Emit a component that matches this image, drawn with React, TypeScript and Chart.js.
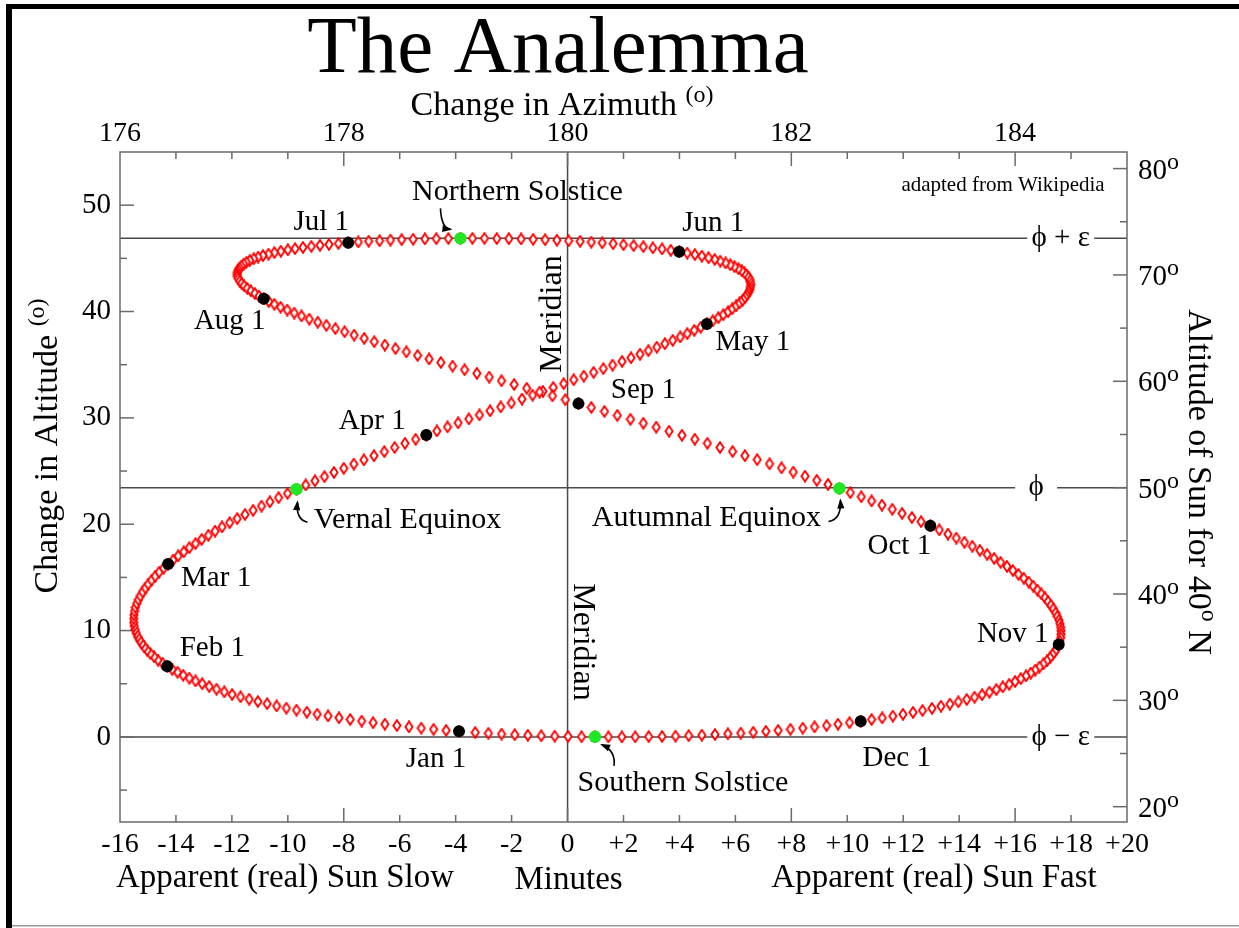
import React, { useEffect, useRef } from 'react';
import { Chart, registerables } from 'chart.js';

Chart.register(...registerables);

const SERIF = '"Liberation Serif", "Times New Roman", Times, serif';

// ---------------- DATA ----------------
// Daily position of the Sun at mean noon (day 1 = Jan 1 ... day 365 = Dec 31)
// x: apparent minus mean solar time, as drawn on the minutes axis
const eqTimeMinutes: number[] = [
  // Jan
  -3.88, -4.34, -4.79, -5.23, -5.67, -6.10, -6.53, -6.95, -7.36, -7.77, -8.17, -8.56, -8.95, -9.32, -9.69, -10.05,
  -10.40, -10.74, -11.07, -11.38, -11.69, -11.99, -12.27, -12.55, -12.81, -13.06, -13.30, -13.52, -13.74, -13.94, -14.13,
  // Feb
  -14.31, -14.48, -14.64, -14.78, -14.91, -15.03, -15.13, -15.22, -15.30, -15.37, -15.42, -15.46, -15.49, -15.51,
  -15.51, -15.50, -15.48, -15.45, -15.40, -15.34, -15.27, -15.19, -15.09, -14.99, -14.87, -14.74, -14.60, -14.44,
  // Mar
  -14.28, -14.10, -13.92, -13.72, -13.52, -13.30, -13.08, -12.84, -12.60, -12.35, -12.08, -11.81, -11.53, -11.24, -10.94,
  -10.64, -10.33, -10.01, -9.69, -9.36, -9.03, -8.69, -8.35, -8.00, -7.64, -7.28, -6.92, -6.55, -6.18, -5.81, -5.43,
  // Apr
  -5.05, -4.67, -4.29, -3.91, -3.53, -3.15, -2.77, -2.39, -2.01, -1.63, -1.25, -0.88, -0.51, -0.14, 0.22,
  0.58, 0.93, 1.28, 1.61, 1.95, 2.27, 2.59, 2.89, 3.19, 3.48, 3.76, 4.03, 4.28, 4.53, 4.76,
  // May
  4.98, 5.19, 5.39, 5.57, 5.74, 5.89, 6.03, 6.15, 6.26, 6.35, 6.42, 6.48, 6.52, 6.54, 6.55, 6.54,
  6.51, 6.47, 6.41, 6.33, 6.23, 6.11, 5.97, 5.82, 5.65, 5.46, 5.26, 5.04, 4.80, 4.55, 4.28,
  // Jun
  3.99, 3.69, 3.38, 3.05, 2.71, 2.36, 2.00, 1.63, 1.24, 0.85, 0.45, 0.04, -0.38, -0.80, -1.23,
  -1.66, -2.10, -2.53, -2.97, -3.40, -3.83, -4.26, -4.69, -5.10, -5.52, -5.93, -6.33, -6.72, -7.11, -7.48,
  // Jul
  -7.84, -8.19, -8.53, -8.85, -9.16, -9.46, -9.74, -10.00, -10.25, -10.48, -10.69, -10.89, -11.06, -11.22, -11.36, -11.48,
  -11.58, -11.66, -11.73, -11.77, -11.80, -11.81, -11.80, -11.77, -11.72, -11.65, -11.56, -11.45, -11.32, -11.18, -11.03,
  // Aug
  -10.86, -10.68, -10.48, -10.26, -10.02, -9.77, -9.51, -9.23, -8.93, -8.62, -8.30, -7.97, -7.63, -7.27, -6.91, -6.53,
  -6.15, -5.76, -5.36, -4.95, -4.53, -4.11, -3.68, -3.24, -2.80, -2.36, -1.91, -1.46, -1.00, -0.54, -0.08,
  // Sep
  0.39, 0.85, 1.32, 1.78, 2.25, 2.71, 3.17, 3.63, 4.09, 4.55, 5.00, 5.45, 5.90, 6.34, 6.78,
  7.22, 7.65, 8.07, 8.49, 8.91, 9.31, 9.72, 10.11, 10.50, 10.87, 11.24, 11.61, 11.96, 12.31, 12.64,
  // Oct
  12.97, 13.29, 13.60, 13.90, 14.19, 14.47, 14.74, 15.00, 15.25, 15.48, 15.71, 15.92, 16.12, 16.31, 16.49, 16.65,
  16.80, 16.94, 17.07, 17.18, 17.28, 17.37, 17.45, 17.51, 17.57, 17.60, 17.63, 17.64, 17.64, 17.63, 17.60,
  // Nov
  17.56, 17.50, 17.43, 17.34, 17.25, 17.14, 17.01, 16.87, 16.72, 16.56, 16.39, 16.20, 16.00, 15.79, 15.56,
  15.33, 15.08, 14.82, 14.55, 14.27, 13.97, 13.67, 13.35, 13.03, 12.69, 12.35, 11.99, 11.63, 11.25, 10.87,
  // Dec
  10.48, 10.08, 9.67, 9.26, 8.83, 8.41, 7.97, 7.53, 7.09, 6.64, 6.19, 5.73, 5.27, 4.80, 4.33, 3.86,
  3.38, 2.90, 2.42, 1.94, 1.46, 0.98, 0.50, 0.02, -0.46, -0.94, -1.42, -1.89, -2.36, -2.83, -3.30,
];

// y: change in altitude (degrees above the winter-solstice noon altitude)
const altitudeChange: number[] = [
  // Jan
  0.53, 0.62, 0.72, 0.83, 0.95, 1.07, 1.20, 1.34, 1.49, 1.64, 1.80, 1.97, 2.14, 2.33, 2.52, 2.71,
  2.91, 3.12, 3.33, 3.55, 3.77, 4.00, 4.24, 4.49, 4.74, 5.00, 5.26, 5.53, 5.80, 6.08, 6.36,
  // Feb
  6.65, 6.94, 7.23, 7.54, 7.84, 8.15, 8.46, 8.78, 9.10, 9.43, 9.76, 10.10, 10.43, 10.77,
  11.12, 11.47, 11.82, 12.18, 12.54, 12.90, 13.26, 13.63, 14.00, 14.37, 14.74, 15.11, 15.49, 15.87,
  // Mar
  16.25, 16.63, 17.02, 17.40, 17.79, 18.18, 18.57, 18.96, 19.35, 19.75, 20.14, 20.53, 20.92, 21.31, 21.71, 22.11,
  22.50, 22.90, 23.29, 23.69, 24.08, 24.48, 24.87, 25.26, 25.66, 26.05, 26.44, 26.83, 27.22, 27.61, 27.99,
  // Apr
  28.38, 28.77, 29.15, 29.53, 29.90, 30.28, 30.66, 31.03, 31.40, 31.77, 32.14, 32.50, 32.86, 33.22, 33.58,
  33.93, 34.28, 34.63, 34.97, 35.31, 35.65, 35.99, 36.32, 36.65, 36.97, 37.29, 37.61, 37.92, 38.23, 38.53,
  // May
  38.83, 39.12, 39.42, 39.70, 39.98, 40.26, 40.54, 40.81, 41.07, 41.33, 41.59, 41.84, 42.08, 42.32, 42.55, 42.78,
  43.00, 43.22, 43.43, 43.64, 43.84, 44.03, 44.22, 44.40, 44.57, 44.74, 44.90, 45.06, 45.21, 45.36, 45.50,
  // Jun
  45.63, 45.76, 45.88, 45.99, 46.10, 46.20, 46.29, 46.38, 46.46, 46.53, 46.60, 46.65, 46.71, 46.75, 46.79,
  46.82, 46.85, 46.86, 46.88, 46.88, 46.88, 46.87, 46.85, 46.83, 46.80, 46.76, 46.72, 46.66, 46.61, 46.54,
  // Jul
  46.47, 46.40, 46.31, 46.23, 46.13, 46.03, 45.91, 45.80, 45.67, 45.54, 45.40, 45.26, 45.12, 44.96, 44.80, 44.63,
  44.46, 44.28, 44.09, 43.90, 43.71, 43.50, 43.30, 43.09, 42.87, 42.65, 42.42, 42.18, 41.94, 41.70, 41.45,
  // Aug
  41.20, 40.94, 40.68, 40.41, 40.14, 39.86, 39.58, 39.29, 39.00, 38.70, 38.40, 38.10, 37.79, 37.48, 37.16, 36.85,
  36.52, 36.20, 35.87, 35.54, 35.21, 34.87, 34.53, 34.19, 33.84, 33.49, 33.14, 32.79, 32.43, 32.07, 31.71,
  // Sep
  31.34, 30.98, 30.61, 30.24, 29.87, 29.50, 29.13, 28.75, 28.37, 27.99, 27.61, 27.22, 26.84, 26.45, 26.07,
  25.68, 25.30, 24.91, 24.52, 24.13, 23.75, 23.36, 22.97, 22.58, 22.19, 21.80, 21.41, 21.02, 20.63, 20.24,
  // Oct
  19.85, 19.47, 19.08, 18.70, 18.31, 17.93, 17.55, 17.17, 16.79, 16.42, 16.04, 15.66, 15.29, 14.92, 14.55, 14.18,
  13.81, 13.45, 13.09, 12.73, 12.38, 12.03, 11.68, 11.33, 10.99, 10.65, 10.31, 9.98, 9.65, 9.33, 9.00,
  // Nov
  8.68, 8.37, 8.06, 7.75, 7.45, 7.15, 6.86, 6.57, 6.29, 6.01, 5.74, 5.47, 5.21, 4.95, 4.70,
  4.45, 4.21, 3.97, 3.74, 3.52, 3.30, 3.09, 2.89, 2.69, 2.49, 2.31, 2.13, 1.96, 1.79, 1.64,
  // Dec
  1.48, 1.34, 1.20, 1.07, 0.95, 0.83, 0.72, 0.62, 0.53, 0.44, 0.36, 0.29, 0.23, 0.17, 0.12, 0.08,
  0.05, 0.03, 0.01, 0.00, 0.00, 0.01, 0.02, 0.05, 0.08, 0.11, 0.16, 0.21, 0.27, 0.34, 0.42,
];

const monthStartDays = [1, 32, 60, 91, 121, 152, 182, 213, 244, 274, 305, 335];
const monthLabels = ['Jan 1', 'Feb 1', 'Mar 1', 'Apr 1', 'May 1', 'Jun 1', 'Jul 1', 'Aug 1', 'Sep 1', 'Oct 1', 'Nov 1', 'Dec 1'];

const eventDays = [78, 172, 265, 356];
const eventLabels = ['Vernal Equinox', 'Northern Solstice', 'Autumnal Equinox', 'Southern Solstice'];

const minutesRange = [-16, 20];
const azimuthRange = [176, 185];
const altChangeRange = [-8, 55];
const altitudeAtZero = 26.56; // Sun altitude for 40°N where the change in altitude is 0 (φ − ε)
const altitudeTicks = [20, 30, 40, 50, 60, 70, 80];

const referenceLevels = [46.88, 23.44, 0];
const referenceLabels = ['ϕ + ε', 'ϕ', 'ϕ − ε'];

// ---------------- STYLE / LAYOUT ----------------
const refLabelCenterMin = [17.63, 16.75, 17.63];
const refLabelHalfGap = [33.5, 21, 33.5];

const monthLabelOffsets = [
  [-23, 28], [45, -18], [48, 14], [-54, -14], [46, 18], [34, -28],
  [-27, -20], [-34, 23], [65, -13], [-31, 21], [-46, -10], [36, 37],
];
const eventLabelOffsets = [[111, 31], [57, -46], [-133, 30], [88, 46]];
const eventArrows = [
  [[11, 33], [-1, 30], [1, 13]],
  [[-20, -30], [-19, -10], [-10, -9]],
  [[-11, 33], [2, 31], [1, 12]],
  [[19, 29], [21, 14], [7, 8]],
];

function seg(ctx: any, x1: number, y1: number, x2: number, y2: number) {
  ctx.beginPath();
  ctx.moveTo(x1, y1);
  ctx.lineTo(x2, y2);
  ctx.stroke();
}

type Part = { t: string; s: number; r?: number };
function rich(ctx: any, parts: Part[], x: number, y: number, align: string, rot = 0) {
  ctx.save();
  ctx.translate(x, y);
  ctx.rotate(rot);
  ctx.textBaseline = 'alphabetic';
  ctx.textAlign = 'left';
  let total = 0;
  const widths = parts.map((p) => {
    ctx.font = `${p.s}px ${SERIF}`;
    const w = ctx.measureText(p.t).width;
    total += w;
    return w;
  });
  let cx = align === 'left' ? 0 : align === 'center' ? -total / 2 : -total;
  parts.forEach((p, i) => {
    ctx.font = `${p.s}px ${SERIF}`;
    ctx.fillText(p.t, cx, -(p.r || 0));
    cx += widths[i];
  });
  ctx.restore();
}

function text(ctx: any, t: string, x: number, y: number, size: number, align = 'center', baseline = 'middle', rot = 0) {
  ctx.save();
  ctx.translate(x, y);
  ctx.rotate(rot);
  ctx.font = `${size}px ${SERIF}`;
  ctx.textAlign = align;
  ctx.textBaseline = baseline;
  ctx.fillText(t, 0, 0);
  ctx.restore();
}

function arrow(ctx: any, s: number[], c: number[], e: number[]) {
  ctx.beginPath();
  ctx.moveTo(s[0], s[1]);
  ctx.quadraticCurveTo(c[0], c[1], e[0], e[1]);
  ctx.stroke();
  const ang = Math.atan2(e[1] - c[1], e[0] - c[0]);
  const L = 8, W = 3.6;
  const ca = Math.cos(ang), sa = Math.sin(ang);
  ctx.beginPath();
  ctx.moveTo(e[0] + ca * 2, e[1] + sa * 2);
  ctx.lineTo(e[0] - L * ca + W * sa, e[1] - L * sa - W * ca);
  ctx.lineTo(e[0] - L * ca - W * sa, e[1] - L * sa + W * ca);
  ctx.closePath();
  ctx.fill();
}

function makeDiamond() {
  const c = document.createElement('canvas');
  c.width = 10;
  c.height = 13;
  const g = c.getContext('2d') as CanvasRenderingContext2D;
  g.beginPath();
  g.moveTo(5, 1.2);
  g.lineTo(8.6, 6.5);
  g.lineTo(5, 11.8);
  g.lineTo(1.4, 6.5);
  g.closePath();
  g.fillStyle = '#ffffff';
  g.fill();
  g.strokeStyle = '#ff0000';
  g.lineWidth = 1.9;
  g.stroke();
  return c;
}

const decorPlugin = {
  id: 'analemmaDecor',
  beforeDraw(chart: any) {
    const { ctx, width, height } = chart;
    ctx.save();
    ctx.fillStyle = '#ffffff';
    ctx.fillRect(0, 0, width, height);
    ctx.fillStyle = '#000000';
    ctx.fillRect(6, 4, width - 6, 5);
    ctx.fillRect(6, 4, 6, height - 4);
    ctx.fillStyle = '#9a9a9a';
    ctx.fillRect(12, height - 3, width - 12, 1.5);
    ctx.restore();
  },
  beforeDatasetsDraw(chart: any) {
    const { ctx, chartArea: a, scales } = chart;
    const sx = scales.x, sx2 = scales.x2, sy = scales.y, sy2 = scales.y2;
    ctx.save();
    // reference lines
    ctx.strokeStyle = '#4a4a4a';
    ctx.lineWidth = 1.5;
    const m = sx.getPixelForValue(0);
    seg(ctx, m, a.top, m, a.bottom);
    referenceLevels.forEach((lv, i) => {
      const py = sy.getPixelForValue(lv);
      const gc = sx.getPixelForValue(refLabelCenterMin[i]);
      const hg = refLabelHalfGap[i];
      seg(ctx, a.left, py, gc - hg, py);
      seg(ctx, gc + hg, py, a.right, py);
    });
    // frame and inward ticks
    ctx.strokeStyle = '#6a6a6a';
    ctx.lineWidth = 1.5;
    ctx.strokeRect(a.left, a.top, a.right - a.left, a.bottom - a.top);
    for (let v = minutesRange[0] + 2; v < minutesRange[1]; v += 2) {
      const px = sx.getPixelForValue(v);
      const len = v % 8 === 0 ? 14 : 7;
      seg(ctx, px, a.bottom, px, a.bottom - len);
    }
    for (let v = azimuthRange[0] + 0.5; v < azimuthRange[1]; v += 0.5) {
      const px = sx2.getPixelForValue(v);
      const len = (v - azimuthRange[0]) % 2 === 0 ? 14 : 7;
      seg(ctx, px, a.top, px, a.top + len);
    }
    for (let v = -5; v < altChangeRange[1]; v += 5) {
      const py = sy.getPixelForValue(v);
      const len = v % 10 === 0 ? 14 : 7;
      seg(ctx, a.left, py, a.left + len, py);
    }
    for (let v = 20; v <= 80; v += 5) {
      const py = sy2.getPixelForValue(v);
      const len = v % 10 === 0 ? 14 : 7;
      seg(ctx, a.right, py, a.right - len, py);
    }
    ctx.restore();
  },
  afterDatasetsDraw(chart: any) {
    const { ctx, chartArea: a, scales } = chart;
    const sx = scales.x, sy = scales.y, sy2 = scales.y2;
    ctx.save();
    ctx.fillStyle = '#000000';
    ctx.strokeStyle = '#000000';

    // titles
    text(ctx, 'The Analemma', 558, 72, 81, 'center', 'alphabetic');
    rich(ctx, [{ t: 'Change in Azimuth ', s: 34 }, { t: '(o)', s: 24, r: 13 }], 562, 115, 'center');
    text(ctx, 'Apparent (real) Sun Slow', 285, 887, 33, 'center', 'alphabetic');
    text(ctx, 'Minutes', sx.getPixelForValue(0) + 1, 889, 33, 'center', 'alphabetic');
    text(ctx, 'Apparent (real) Sun Fast', 934, 887, 33, 'center', 'alphabetic');
    rich(ctx, [{ t: 'Change in Altitude ', s: 34 }, { t: '(o)', s: 24, r: 13 }], 57, 446, 'center', -Math.PI / 2);
    rich(ctx, [{ t: 'Altitude of Sun for 40', s: 34 }, { t: 'o', s: 24, r: 13 }, { t: ' N', s: 34 }], 1189, 482, 'center', Math.PI / 2);
    text(ctx, 'adapted from Wikipedia', 1003, 191, 21, 'center', 'alphabetic');

    // right axis labels (altitude of the Sun)
    altitudeTicks.forEach((v) => {
      const py = sy2.getPixelForValue(v);
      rich(ctx, [{ t: String(v), s: 29 }, { t: 'o', s: 24, r: 10 }], a.right + 11, py + 10, 'left');
    });

    // reference level labels
    referenceLevels.forEach((lv, i) => {
      text(ctx, referenceLabels[i], sx.getPixelForValue(refLabelCenterMin[i]), sy.getPixelForValue(lv), 29);
    });

    // meridian labels
    const m = sx.getPixelForValue(0);
    text(ctx, 'Meridian', m - 7, 314, 32, 'center', 'alphabetic', -Math.PI / 2);
    text(ctx, 'Meridian', m + 6, 642, 32, 'center', 'alphabetic', Math.PI / 2);

    // month labels
    monthStartDays.forEach((d, i) => {
      const px = sx.getPixelForValue(eqTimeMinutes[d - 1]);
      const py = sy.getPixelForValue(altitudeChange[d - 1]);
      text(ctx, monthLabels[i], px + monthLabelOffsets[i][0], py + monthLabelOffsets[i][1], 29);
    });

    // equinox / solstice labels and arrows
    ctx.lineWidth = 1.6;
    eventDays.forEach((d, i) => {
      const px = sx.getPixelForValue(eqTimeMinutes[d - 1]);
      const py = sy.getPixelForValue(altitudeChange[d - 1]);
      text(ctx, eventLabels[i], px + eventLabelOffsets[i][0], py + eventLabelOffsets[i][1], 30);
      const [s, c, e] = eventArrows[i];
      arrow(ctx, [px + s[0], py + s[1]], [px + c[0], py + c[1]], [px + e[0], py + e[1]]);
    });
    ctx.restore();
  },
};

export default function App() {
  const ref = useRef<HTMLCanvasElement>(null);

  useEffect(() => {
    const canvas = ref.current;
    if (!canvas) return;
    const diamond = makeDiamond();
    const dailyPoints = eqTimeMinutes.map((x, i) => ({ x, y: altitudeChange[i] }));
    const monthPoints = monthStartDays.map((d) => ({ x: eqTimeMinutes[d - 1], y: altitudeChange[d - 1] }));
    const eventPoints = eventDays.map((d) => ({ x: eqTimeMinutes[d - 1], y: altitudeChange[d - 1] }));

    const tickFont = { family: SERIF, size: 28 };

    const chart = new Chart(canvas, {
      type: 'scatter',
      data: {
        datasets: [
          {
            label: 'Equinoxes and solstices',
            data: eventPoints,
            pointRadius: 6.2,
            pointBackgroundColor: '#22e622',
            pointBorderWidth: 0,
            borderWidth: 0,
            order: 0,
          },
          {
            label: 'First of the month',
            data: monthPoints,
            pointRadius: 6,
            pointBackgroundColor: '#000000',
            pointBorderWidth: 0,
            borderWidth: 0,
            order: 1,
          },
          {
            label: 'Daily position',
            data: dailyPoints,
            pointStyle: diamond as any,
            order: 2,
          },
        ],
      } as any,
      options: {
        responsive: false,
        maintainAspectRatio: false,
        animation: false,
        devicePixelRatio: 1,
        events: [],
        layout: { padding: 0 },
        plugins: {
          legend: { display: false },
          tooltip: { enabled: false },
          title: { display: false },
        },
        scales: {
          x: {
            type: 'linear',
            position: 'bottom',
            min: minutesRange[0],
            max: minutesRange[1],
            afterFit: (s: any) => { s.height = 106; },
            grid: { display: false, drawTicks: false },
            border: { display: false },
            ticks: {
              stepSize: 2,
              autoSkip: false,
              maxRotation: 0,
              padding: 6,
              color: '#000000',
              font: tickFont,
              callback: (v: any) => (Number(v) > 0 ? '+' + v : String(v)),
            },
          },
          x2: {
            type: 'linear',
            position: 'top',
            min: azimuthRange[0],
            max: azimuthRange[1],
            afterFit: (s: any) => { s.height = 152; },
            grid: { display: false, drawTicks: false },
            border: { display: false },
            ticks: {
              stepSize: 2,
              includeBounds: false,
              autoSkip: false,
              maxRotation: 0,
              padding: 2,
              color: '#000000',
              font: tickFont,
            },
          },
          y: {
            type: 'linear',
            position: 'left',
            min: altChangeRange[0],
            max: altChangeRange[1],
            afterFit: (s: any) => { s.width = 120; },
            grid: { display: false, drawTicks: false },
            border: { display: false },
            ticks: {
              stepSize: 10,
              includeBounds: false,
              padding: 9,
              color: '#000000',
              font: { family: SERIF, size: 29 },
            },
          },
          y2: {
            type: 'linear',
            position: 'right',
            min: altChangeRange[0] + altitudeAtZero,
            max: altChangeRange[1] + altitudeAtZero,
            afterFit: (s: any) => { s.width = 112; },
            grid: { display: false, drawTicks: false },
            border: { display: false },
            ticks: { display: false, stepSize: 10, includeBounds: false },
          },
        },
      } as any,
      plugins: [decorPlugin as any],
    });

    return () => chart.destroy();
  }, []);

  return (
    <div style={{ position: 'absolute', left: 0, top: 0, width: 1239, height: 928, background: '#ffffff' }}>
      <canvas ref={ref} width={1239} height={928} style={{ display: 'block', width: 1239, height: 928 }} />
    </div>
  );
}
